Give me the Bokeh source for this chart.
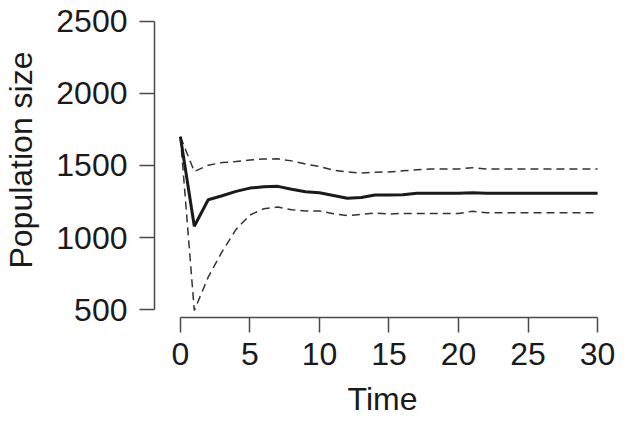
from bokeh.plotting import figure
from bokeh.models import Range1d, FixedTicker
from bokeh.embed import file_html
from bokeh.resources import INLINE

time = list(range(0, 31))
mean_pop = [1700, 1078, 1262, 1290, 1320, 1343, 1352, 1355, 1335, 1318, 1310,
            1292, 1273, 1278, 1295, 1295, 1297, 1308, 1308, 1308, 1308, 1310,
            1308, 1308, 1308, 1308, 1308, 1308, 1308, 1308, 1308]
upper_pop = [1700, 1458, 1502, 1520, 1527, 1538, 1545, 1546, 1532, 1510, 1493,
             1468, 1455, 1448, 1453, 1455, 1463, 1470, 1475, 1476, 1476, 1484,
             1476, 1476, 1476, 1476, 1476, 1476, 1476, 1476, 1476]
lower_pop = [1700, 493, 725, 902, 1056, 1156, 1200, 1211, 1193, 1184, 1184,
             1165, 1152, 1160, 1170, 1163, 1167, 1167, 1167, 1167, 1167, 1182,
             1172, 1172, 1172, 1172, 1172, 1172, 1172, 1172, 1172]
x_ticks = [0, 5, 10, 15, 20, 25, 30]
y_ticks = [500, 1000, 1500, 2000, 2500]

FONT = "Liberation Sans"
AX = "#4a4a4a"
TXT = "#1a1a1a"

p = figure(width=616, height=419, output_backend="svg", toolbar_location=None,
           x_range=Range1d(-1.862, 30.93), y_range=Range1d(444.6, 2631.5),
           min_border_left=152, min_border_right=6, min_border_top=2,
           min_border_bottom=101)
p.outline_line_color = None
p.grid.visible = False
p.background_fill_color = "white"
p.border_fill_color = "white"

p.line(time, upper_pop, line_color="#333333", line_width=1.5, line_dash="8 5")
p.line(time, lower_pop, line_color="#333333", line_width=1.5, line_dash="8 5")
p.line(time, mean_pop, line_color="#1a1a1a", line_width=3)

for ax in (p.xaxis[0], p.yaxis[0]):
    ax.axis_line_color = AX
    ax.axis_line_width = 1.5
    ax.major_tick_line_color = AX
    ax.major_tick_line_width = 1.5
    ax.major_tick_out = 15
    ax.major_tick_in = 0
    ax.minor_tick_line_color = None
    ax.major_label_text_font = FONT
    ax.major_label_text_font_size = "32px"
    ax.major_label_text_color = TXT
    ax.axis_label_text_font = FONT
    ax.axis_label_text_font_size = "32px"
    ax.axis_label_text_font_style = "normal"
    ax.axis_label_text_color = TXT

p.xaxis[0].ticker = FixedTicker(ticks=x_ticks)
p.yaxis[0].ticker = FixedTicker(ticks=y_ticks)
p.xaxis[0].bounds = (0, 30)
p.yaxis[0].bounds = (500, 2500)
p.xaxis[0].axis_label = "Time"
p.yaxis[0].axis_label = "Population size"
p.xaxis[0].major_label_standoff = 10
p.xaxis[0].axis_label_standoff = 13
p.yaxis[0].major_label_standoff = 12
p.yaxis[0].axis_label_standoff = 14
p.yaxis[0].major_label_orientation = "horizontal"

open("out.html", "w").write(file_html(p, INLINE))
